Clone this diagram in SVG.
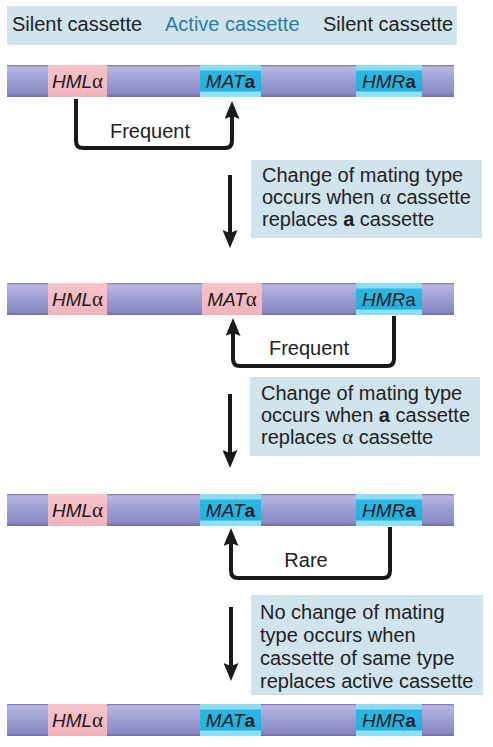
<svg xmlns="http://www.w3.org/2000/svg" width="493" height="747" viewBox="0 0 493 747">
<defs>
<linearGradient id="gBar" x1="0" y1="0" x2="0" y2="1">
<stop offset="0" stop-color="#6f70b2"/>
<stop offset="0.06" stop-color="#b7b6e2"/>
<stop offset="0.3" stop-color="#a9a8da"/>
<stop offset="0.6" stop-color="#9897cd"/>
<stop offset="0.9" stop-color="#8a89c3"/>
<stop offset="1" stop-color="#6b6ca9"/>
</linearGradient>
<linearGradient id="gPink" x1="0" y1="0" x2="0" y2="1">
<stop offset="0" stop-color="#f6c4ca"/>
<stop offset="1" stop-color="#f2b3bb"/>
</linearGradient>
<linearGradient id="gCyan" x1="0" y1="0" x2="0" y2="1">
<stop offset="0" stop-color="#8fdcf4"/>
<stop offset="0.14" stop-color="#8fdcf4"/>
<stop offset="0.2" stop-color="#2bb9e3"/>
<stop offset="0.8" stop-color="#22b0de"/>
<stop offset="0.86" stop-color="#8fe0f6"/>
<stop offset="1" stop-color="#8fe0f6"/>
</linearGradient>
<marker id="ah" viewBox="0 0 18 15" refX="4" refY="7.5" markerWidth="18" markerHeight="15" markerUnits="userSpaceOnUse" orient="auto">
<path d="M0,0 L18,7.5 L0,15 L3,7.5 z" fill="#1a1a1a"/>
</marker>
</defs>
<style>
.t{font-family:"Liberation Sans",Arial,sans-serif;font-size:20px;fill:#222}
.lab{font-family:"Liberation Sans",Arial,sans-serif;font-size:19px;font-style:italic;fill:#1a1a1a;text-anchor:middle}
.al{font-family:"Liberation Serif","Times New Roman",serif;font-style:normal;font-size:21px}
.b{font-style:normal;font-weight:bold}
.box{fill:#d0e4ed}
.bar{fill:url(#gBar)}
.pk{fill:url(#gPink)}
.cy{fill:url(#gCyan)}
.ln{fill:none;stroke:#1a1a1a;stroke-width:4;stroke-linejoin:round}
</style>
<rect width="493" height="747" fill="#ffffff"/>

<g id="header">
<rect class="box" x="7" y="6" width="450" height="39"/>
<text class="t" x="12" y="31">Silent cassette</text>
<text class="t" x="165" y="31" style="fill:#2a7ea3">Active cassette</text>
<text class="t" x="323" y="31">Silent cassette</text>
</g>

<g id="bar1">
<rect class="bar" x="7" y="65" width="447" height="32"/>
<rect class="pk" x="48" y="65" width="59" height="32"/>
<rect class="cy" x="200" y="65" width="61" height="32"/>
<rect class="cy" x="356" y="65" width="66" height="32"/>
<text class="lab" x="77.5" y="88">HML<tspan class="al">α</tspan></text>
<text class="lab" x="230.5" y="88">MAT<tspan class="b">a</tspan></text>
<text class="lab" x="389" y="88">HMR<tspan class="b">a</tspan></text>
</g>

<g id="note1">
<rect class="box" x="251" y="160" width="231" height="78"/>
<text class="t" x="262" y="182">Change of mating type</text>
<text class="t" x="262" y="204">occurs when <tspan class="al">α</tspan> cassette</text>
<text class="t" x="262" y="226">replaces <tspan font-weight="bold">a</tspan> cassette</text>
</g>

<g id="bar2">
<rect class="bar" x="7" y="283" width="447" height="32"/>
<rect class="pk" x="48" y="283" width="59" height="32"/>
<rect class="pk" x="202" y="283" width="60" height="32"/>
<rect class="cy" x="356" y="283" width="66" height="32"/>
<text class="lab" x="77.5" y="306">HML<tspan class="al">α</tspan></text>
<text class="lab" x="232" y="306">MAT<tspan class="al">α</tspan></text>
<text class="lab" x="389" y="306">HMR<tspan style="font-style:normal">a</tspan></text>
</g>

<g id="note2">
<rect class="box" x="250" y="377" width="230" height="79"/>
<text class="t" x="261" y="400">Change of mating type</text>
<text class="t" x="261" y="422">occurs when <tspan font-weight="bold">a</tspan> cassette</text>
<text class="t" x="261" y="444">replaces <tspan class="al">α</tspan> cassette</text>
</g>

<g id="bar3">
<rect class="bar" x="7" y="494" width="447" height="32"/>
<rect class="pk" x="48" y="494" width="59" height="32"/>
<rect class="cy" x="200" y="494" width="61" height="32"/>
<rect class="cy" x="356" y="494" width="66" height="32"/>
<text class="lab" x="77.5" y="517">HML<tspan class="al">α</tspan></text>
<text class="lab" x="230.5" y="517">MAT<tspan class="b">a</tspan></text>
<text class="lab" x="389" y="517">HMR<tspan class="b">a</tspan></text>
</g>

<g id="note3">
<rect class="box" x="251" y="595" width="232" height="100"/>
<text class="t" x="260" y="619">No change of mating</text>
<text class="t" x="260" y="642">type occurs when</text>
<text class="t" x="260" y="665">cassette of same type</text>
<text class="t" x="260" y="688">replaces active cassette</text>
</g>

<g id="bar4">
<rect class="bar" x="7" y="704" width="447" height="32"/>
<rect class="pk" x="48" y="704" width="59" height="32"/>
<rect class="cy" x="200" y="704" width="61" height="32"/>
<rect class="cy" x="356" y="704" width="66" height="32"/>
<text class="lab" x="77.5" y="727">HML<tspan class="al">α</tspan></text>
<text class="lab" x="230.5" y="727">MAT<tspan class="b">a</tspan></text>
<text class="lab" x="389" y="727">HMR<tspan class="b">a</tspan></text>
</g>

<g id="connectors">
<path class="ln" d="M76,99 V141 Q76,148 83,148 H225 Q232,148 232,141 V115" marker-end="url(#ah)"/>
<text class="t" x="150" y="138" text-anchor="middle">Frequent</text>
<path class="ln" d="M230,175 V234" marker-end="url(#ah)"/>
<path class="ln" d="M394,316 V359 Q394,366 387,366 H240 Q233,366 233,359 V332" marker-end="url(#ah)"/>
<text class="t" x="309" y="355" text-anchor="middle">Frequent</text>
<path class="ln" d="M230,394 V454" marker-end="url(#ah)"/>
<path class="ln" d="M390,527 V571 Q390,578 383,578 H238 Q231,578 231,571 V542" marker-end="url(#ah)"/>
<text class="t" x="306" y="567" text-anchor="middle">Rare</text>
<path class="ln" d="M231,607 V667" marker-end="url(#ah)"/>
</g>
</svg>
